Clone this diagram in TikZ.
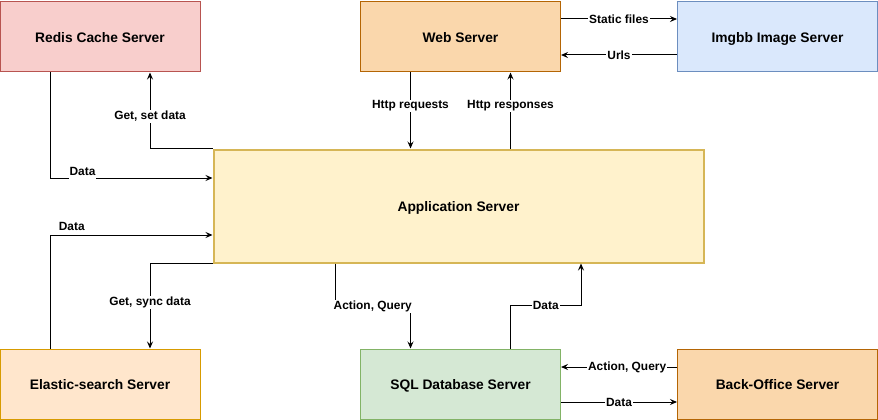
\documentclass[tikz,border=0pt]{standalone}
\usepackage{fontspec}
\setmainfont{Liberation Sans}
\usetikzlibrary{arrows.meta,calc}
\definecolor{redisfill}{HTML}{F8CECC}\definecolor{redisline}{HTML}{B85450}
\definecolor{webfill}{HTML}{FAD7AC}\definecolor{webline}{HTML}{B46504}
\definecolor{imgfill}{HTML}{DAE8FC}\definecolor{imgline}{HTML}{6C8EBF}
\definecolor{appfill}{HTML}{FFF2CC}\definecolor{appline}{HTML}{D6B656}
\definecolor{esfill}{HTML}{FFE6CC}\definecolor{esline}{HTML}{D79B00}
\definecolor{sqlfill}{HTML}{D5E8D4}\definecolor{sqlline}{HTML}{82B366}
\begin{document}
\begin{tikzpicture}[x=1pt,y=-1pt,
  server/.style={draw, line width=1pt, minimum width=200pt, minimum height=70pt, inner sep=0pt,
     text height=11pt, text depth=0pt,
     font=\fontsize{13.8}{16}\selectfont\bfseries},
  arr/.style={line width=1pt, -{Stealth[length=7pt,width=6pt,inset=2.5pt]}},
  lbl/.style={font=\fontsize{11.9}{14}\selectfont\bfseries, inner sep=1pt},
  lblw/.style={lbl, fill=white}]
\useasboundingbox (0,0) rectangle (878,420);
\node[server, fill=redisfill, draw=redisline] (redis) at (100,37) {Redis Cache Server};
\node[server, fill=webfill, draw=webline] (web) at (460.5,37) {Web Server};
\node[server, fill=imgfill, draw=imgline] (img) at (777.5,37) {Imgbb Image Server};
\node[server, fill=appfill, draw=appline, line width=2pt, minimum width=490pt, minimum height=113pt] (app) at (458.5,206) {Application Server};
\node[server, fill=esfill, draw=esline] (elastic) at (100,384) {Elastic-search Server};
\node[server, fill=sqlfill, draw=sqlline] (sql) at (460.5,384) {SQL Database Server};
\node[server, fill=webfill, draw=webline] (back) at (777.5,384) {Back-Office Server};
% Redis
\draw[arr] ([xshift=-50pt]redis.south) |- node[pos=0.6, lblw, text depth=3pt, yshift=5pt]{Data} ([yshift=28pt]app.west);
\draw[arr] (app.north west) -| node[pos=0.71, lblw]{Get, set data} ([xshift=50pt]redis.south);
% Elastic
\draw[arr] ([xshift=-50pt]elastic.north) |- node[pos=0.567, lbl, above=2.5pt]{Data} ([yshift=-29pt]app.west);
\draw[arr] (app.south west) -| node[pos=0.73, lblw]{Get, sync data} ([xshift=50pt]elastic.north);
% Web
\draw[arr] ([xshift=-50pt]web.south) -- node[pos=0.44, lblw]{Http requests} ([xshift=-50pt]web.south |- app.north);
\draw[arr] ([xshift=50pt]web.south |- app.north) -- node[pos=0.56, lblw]{Http responses} ([xshift=50pt]web.south);
\draw[arr] ([yshift=18pt]web.east) -- node[lblw]{Static files} ([yshift=18pt]web.east -| img.west);
\draw[arr] ([yshift=-18pt]img.west) -- node[lblw]{Urls} ([yshift=-18pt]img.west -| web.east);
% SQL
\draw[arr] ([xshift=-123.5pt]app.south) -- ++(0,43) -| node[pos=0.25, lblw]{Action, Query} ([xshift=-50pt]sql.north);
\draw[arr] ([xshift=50pt]sql.north) -- ++(0,-43) -| node[pos=0.25, lblw]{Data} ([xshift=122.5pt]app.south);
\draw[arr] ([yshift=17pt]back.west) -- node[pos=0.43, lblw]{Action, Query} ([yshift=17pt]back.west -| sql.east);
\draw[arr] ([yshift=-18pt]sql.east) -- node[lblw]{Data} ([yshift=-18pt]sql.east -| back.west);
\end{tikzpicture}
\end{document}
